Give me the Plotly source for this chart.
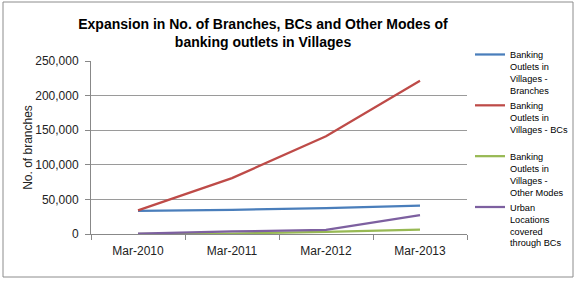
import plotly.graph_objects as go

categories = ["Mar-2010", "Mar-2011", "Mar-2012", "Mar-2013"]
branches = [33378, 34811, 37471, 40837]
bcs = [34174, 80802, 141136, 221341]
other_modes = [142, 595, 3146, 6276]
urban_bcs = [447, 3771, 5891, 27143]

series_names = [
    "Banking<br>Outlets in<br>Villages -<br>Branches",
    "Banking<br>Outlets in<br>Villages - BCs<br> ",
    "Banking<br>Outlets in<br>Villages -<br>Other Modes",
    "Urban<br>Locations<br>covered<br>through BCs",
]
series_values = [branches, bcs, other_modes, urban_bcs]
series_colors = ["#4A7EBB", "#BE4B48", "#98B954", "#7D60A0"]

W, H = 575, 282
L, R, T, B = 91, 467, 61, 234
pw, ph = R - L, B - T

fig = go.Figure()
for name, vals, col in zip(series_names, series_values, series_colors):
    fig.add_trace(go.Scatter(x=categories, y=vals, mode="lines", name=name,
                             line=dict(color=col, width=2.25)))

def px_x(p):
    return (p - L) / pw

def px_y(p):
    return (B - p) / ph

fig.update_layout(
    width=W, height=H,
    margin=dict(l=L, r=W - R, t=T, b=H - B, autoexpand=False),
    paper_bgcolor="white", plot_bgcolor="white",
    font=dict(family="Liberation Sans, Arial, sans-serif", size=12, color="#222"),
    title=dict(
        text="Expansion in No. of Branches, BCs and Other Modes of<br>banking outlets in Villages",
        x=263 / W, xref="container", xanchor="center",
        y=1 - 29 / H, yref="container", yanchor="top",
        font=dict(family="Liberation Sans, Arial, sans-serif", size=14, color="#000", weight="bold"),
    ),
    xaxis=dict(
        type="category", range=[-0.5, 3.5], tickson="boundaries",
        ticks="outside", ticklen=5, tickcolor="#888", showline=True,
        linecolor="#888", linewidth=1, showgrid=False, ticklabelstandoff=6,
        tickfont=dict(size=12, color="#222"),
    ),
    yaxis=dict(
        range=[0, 250000], dtick=50000, tickformat=",d",
        ticks="outside", ticklen=5, tickcolor="#888", showline=True,
        linecolor="#888", linewidth=1, showgrid=True, gridcolor="#9a9a9a",
        gridwidth=1, zeroline=False, ticklabelstandoff=4,
        tickfont=dict(size=12, color="#222"),
        title=dict(text="No. of branches", standoff=0, font=dict(size=12, color="#222")),
    ),
    legend=dict(
        x=px_x(470), y=px_y(42), xanchor="left", yanchor="top",
        valign="top", bgcolor="rgba(0,0,0,0)", maxheight=400,
        font=dict(family="Liberation Sans, Arial, sans-serif", size=9.2, color="#000"),
    ),
    showlegend=True,
    shapes=[dict(type="rect", xref="paper", yref="paper",
                 x0=px_x(3), x1=px_x(573), y0=px_y(277), y1=px_y(2),
                 line=dict(color="#8c8c8c", width=1), fillcolor="rgba(0,0,0,0)")],
)

fig.write_html("out.html")
